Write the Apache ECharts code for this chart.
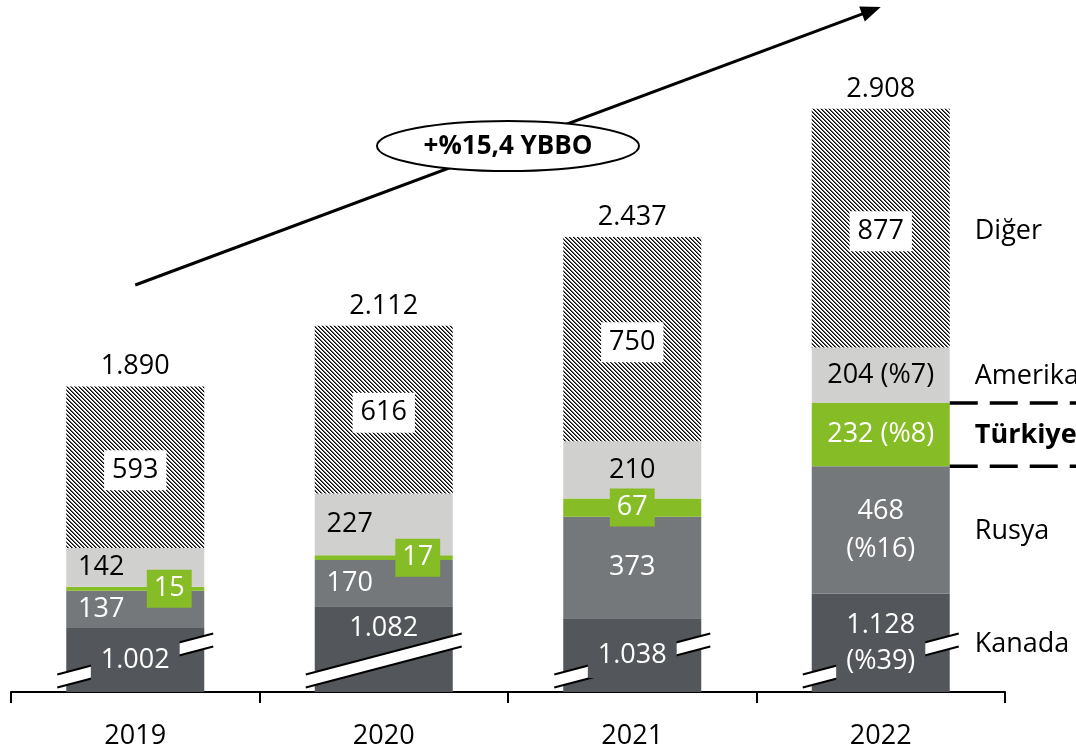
<!DOCTYPE html>
<html>
<head>
<meta charset="utf-8">
<script src="https://cdn.jsdelivr.net/npm/echarts@6/dist/echarts.min.js"></script>
<style>
  html, body { margin: 0; padding: 0; background: #fff; }
  #chart { width: 1076px; height: 753px; }
</style>
</head>
<body>
<div id="chart"></div>
<script>
// Yearly volumes by origin (stacked bottom to top)
const years   = ['2019', '2020', '2021', '2022'];
const kanada  = [1002, 1082, 1038, 1128];
const rusya   = [137, 170, 373, 468];
const turkiye = [15, 17, 67, 232];
const amerika = [142, 227, 210, 204];
const diger   = [593, 616, 750, 877];
const totals  = [1890, 2112, 2437, 2908];
// 2022 shares shown in brackets
const share2022 = { kanada: 39, rusya: 16, turkiye: 8, amerika: 7 };
const seriesNames = ['Kanada', 'Rusya', 'Türkiye', 'Amerika', 'Diğer'];
const growthText = '+%15,4 YBBO';

// The value axis is cut here: Kanada bars start at the break
const AXIS_BREAK = 767;
const AXIS_TOP = 3000;

const FONT = '"Open Sans", "Noto Sans", sans-serif';
const FS = 27;
const C = { kanada: '#53565a', rusya: '#75787b', turkiye: '#86bc25', amerika: '#d0d0ce' };

const fmt = v => String(v).replace(/\B(?=(\d{3})+(?!\d))/g, '.');

// Diagonal hatch fill for "Diğer"
function hatchCanvas() {
  const n = 4;
  const c = document.createElement('canvas');
  c.width = n; c.height = n;
  const g = c.getContext('2d');
  g.fillStyle = '#fff'; g.fillRect(0, 0, n, n);
  for (let y = 0; y < n; y++) {
    for (let x = 0; x < n; x++) {
      const d = (((x - y) % n) + n) % n;
      if (d === 0) { g.fillStyle = '#000'; g.fillRect(x, y, 1, 1); }
      else if (d === 1) { g.fillStyle = '#666'; g.fillRect(x, y, 1, 1); }
    }
  }
  return c;
}

const baseLabel = { show: true, fontFamily: FONT, fontSize: FS, position: 'inside' };

function items(values, perItem) {
  return values.map((v, i) => Object.assign({ value: v }, perItem(i) || {}));
}

const chart = echarts.init(document.getElementById('chart'), null, { renderer: 'canvas' });

const option = {
  animation: false,
  backgroundColor: '#fff',
  grid: { left: 11, right: 71, top: 84, bottom: 61 },
  xAxis: {
    type: 'category',
    data: years,
    axisLine: { lineStyle: { color: '#000', width: 2 } },
    axisTick: { show: true, length: 11, lineStyle: { color: '#000', width: 2 } },
    axisLabel: { color: '#000', fontFamily: FONT, fontSize: FS, margin: 31 }
  },
  yAxis: {
    type: 'value',
    min: AXIS_BREAK,
    max: AXIS_TOP,
    show: false,
    splitLine: { show: false }
  },
  series: [
    {
      name: seriesNames[0], type: 'bar', stack: 'total', barWidth: 138,
      itemStyle: { color: C.kanada },
      label: Object.assign({}, baseLabel, {
        color: '#fff', backgroundColor: C.kanada, padding: [5, 10], lineHeight: 36,
        formatter: p => p.dataIndex === 3 ? fmt(p.value) + '\n(%' + share2022.kanada + ')' : fmt(p.value)
      }),
      data: items(kanada, i => i === 1 ? { label: { offset: [0, -21], padding: [0, 10], lineHeight: 28 } } : null)
    },
    {
      name: seriesNames[1], type: 'bar', stack: 'total', barWidth: 138,
      itemStyle: { color: C.rusya },
      label: Object.assign({}, baseLabel, {
        color: '#fff', lineHeight: 38,
        formatter: p => p.dataIndex === 3 ? fmt(p.value) + '\n(%' + share2022.rusya + ')' : fmt(p.value)
      }),
      data: items(rusya, i => i < 2 ? { label: { offset: [-34, 0] } } : null)
    },
    {
      name: seriesNames[2], type: 'bar', stack: 'total', barWidth: 138,
      itemStyle: { color: C.turkiye },
      label: Object.assign({}, baseLabel, {
        color: '#fff',
        formatter: p => p.dataIndex === 3 ? fmt(p.value) + ' (%' + share2022.turkiye + ')' : fmt(p.value)
      }),
      data: items(turkiye, i => i < 3 ? {
        label: { offset: [i < 2 ? 34 : 0, 0], backgroundColor: C.turkiye, padding: [4, 7], lineHeight: 30 }
      } : null)
    },
    {
      name: seriesNames[3], type: 'bar', stack: 'total', barWidth: 138,
      itemStyle: { color: C.amerika },
      label: Object.assign({}, baseLabel, {
        color: '#000',
        formatter: p => p.dataIndex === 3 ? fmt(p.value) + ' (%' + share2022.amerika + ')' : fmt(p.value)
      }),
      data: items(amerika, i => i < 2 ? { label: { offset: [-34, 0] } } : null)
    },
    {
      name: seriesNames[4], type: 'bar', stack: 'total', barWidth: 138,
      itemStyle: { color: { image: hatchCanvas(), repeat: 'repeat' } },
      label: Object.assign({}, baseLabel, {
        color: '#000', backgroundColor: '#fff', padding: [4, 8], lineHeight: 32, offset: [0, 3],
        formatter: p => fmt(p.value)
      }),
      data: diger.slice()
    },
    {
      // year totals above each stack
      name: 'Toplam', type: 'scatter', symbolSize: 0, silent: true, z: 3,
      itemStyle: { opacity: 1, color: '#000' },
      label: {
        show: true, position: 'top', distance: 6, color: '#000',
        fontFamily: FONT, fontSize: FS, formatter: p => fmt(p.value[1])
      },
      data: totals.map((v, i) => [i, v])
    }
  ]
};

chart.setOption(option);

// Break marks, growth arrow and right-hand series names
function decorate() {
  const px = (i, v) => chart.convertToPixel({ gridIndex: 0 }, [i, v]);
  const els = [];
  const barHalf = 69;

  years.forEach((y, i) => {
    const [cx, by] = px(i, AXIS_BREAK);
    const half = 78, t = 6.5;
    const yl = by - 11, yr = by - 52;
    els.push({
      type: 'polygon', z: 2, z2: 1, silent: true,
      shape: { points: [[cx - half, yl - t], [cx + half, yr - t], [cx + half, yr + t], [cx - half, yl + t]] },
      style: { fill: '#fff' }
    });
    [-t, t].forEach(d => els.push({
      type: 'line', z: 2, z2: 1, silent: true,
      shape: { x1: cx - half, y1: yl + d, x2: cx + half, y2: yr + d },
      style: { stroke: '#000', lineWidth: 2 }
    }));
  });

  // growth arrow
  const sx = px(0, AXIS_BREAK)[0], sy = 285;
  const tx = px(3, AXIS_BREAK)[0], ty = 7;
  const dx = tx - sx, dy = ty - sy, len = Math.hypot(dx, dy);
  const ux = dx / len, uy = dy / len, nx = -uy, ny = ux;
  const hl = 20, hw = 8;
  const bx = tx - ux * hl, by = ty - uy * hl;
  els.push({
    type: 'line', z: 5, silent: true,
    shape: { x1: sx, y1: sy, x2: bx + ux * 2, y2: by + uy * 2 },
    style: { stroke: '#000', lineWidth: 3 }
  });
  els.push({
    type: 'polygon', z: 5, silent: true,
    shape: { points: [[tx, ty], [bx + nx * hw, by + ny * hw], [bx - nx * hw, by - ny * hw]] },
    style: { fill: '#000' }
  });
  const mx = (sx + tx) / 2, my = sy + dy * ((mx - sx) / dx);
  els.push({
    type: 'ellipse', z: 6, silent: true,
    shape: { cx: mx, cy: my, rx: 131, ry: 25 },
    style: { fill: '#fff', stroke: '#000', lineWidth: 2 }
  });
  els.push({
    type: 'text', z: 7, silent: true,
    style: {
      text: growthText, x: mx, y: my + 1, align: 'center', verticalAlign: 'middle',
      fill: '#000', fontFamily: FONT, fontSize: 26, fontWeight: 'bold'
    }
  });

  // series names next to the 2022 bar
  const last = years.length - 1;
  const stacks = [kanada, rusya, turkiye, amerika, diger];
  const cx3 = px(last, AXIS_BREAK)[0];
  let lo = AXIS_BREAK;
  stacks.forEach((arr, k) => {
    const hi = k === 0 ? arr[last] : lo + arr[last];
    const mid = (lo + hi) / 2;
    const yy = px(last, mid)[1] + (k === 4 ? 3 : 1);
    els.push({
      type: 'text', z: 5, silent: true,
      style: {
        text: seriesNames[k], x: cx3 + barHalf + 25, y: yy, align: 'left', verticalAlign: 'middle',
        fill: '#000', fontFamily: FONT, fontSize: FS, fontWeight: k === 2 ? 'bold' : 'normal'
      }
    });
    if (k === 2) {
      [lo, hi].forEach(v => {
        const yv = px(last, v)[1];
        els.push({
          type: 'line', z: 5, silent: true,
          shape: { x1: cx3 + barHalf, y1: yv, x2: 1076, y2: yv },
          style: { stroke: '#000', lineWidth: 3.5, lineDash: [28, 12] }
        });
      });
    }
    lo = hi;
  });

  chart.setOption({ graphic: { elements: els } });
}

decorate();
</script>
</body>
</html>
